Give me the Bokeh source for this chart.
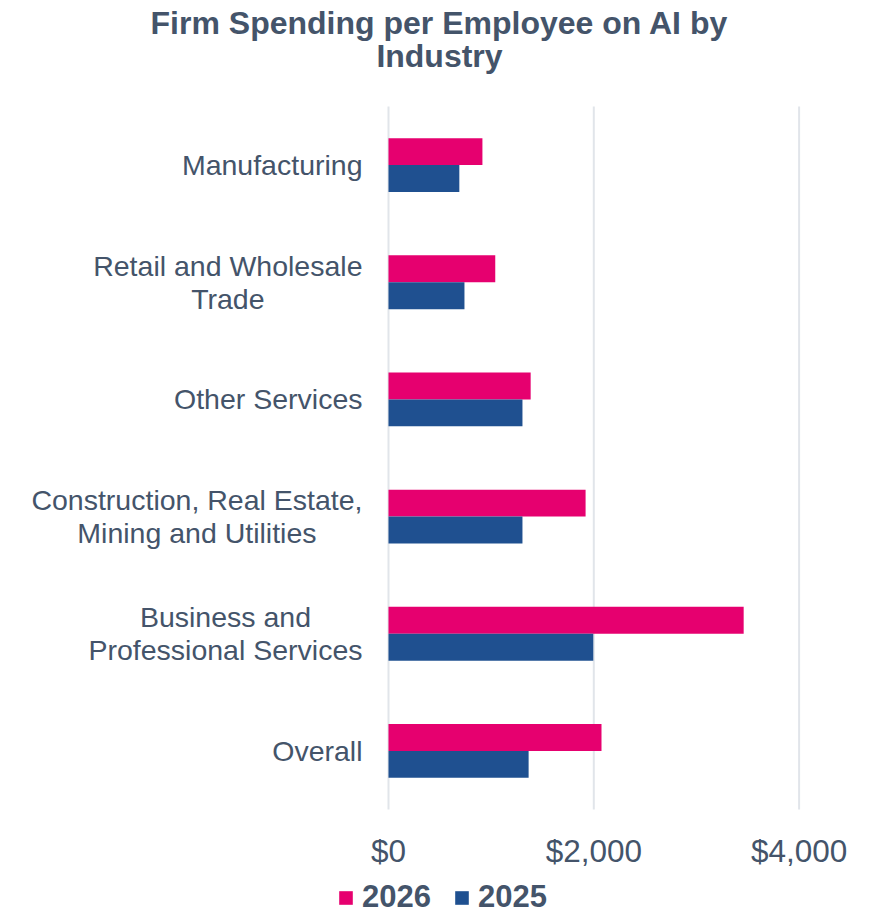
from bokeh.plotting import figure
from bokeh.models import (Range1d, FactorRange, Legend, LegendItem, ColumnDataSource)
from bokeh.core.properties import value
from bokeh.transform import dodge
from bokeh.embed import file_html
from bokeh.resources import INLINE

# ---- data ----
categories = [
    "Manufacturing",
    "Retail and Wholesale\nTrade",
    "Other Services",
    "Construction, Real Estate,\nMining and Utilities",
    "Business and\nProfessional Services",
    "Overall",
]
values_2026 = [915, 1040, 1385, 1920, 3460, 2075]
values_2025 = [690, 740, 1305, 1305, 1995, 1365]
series_names = ["2026", "2025"]
x_ticks = [0, 2000, 4000]
x_tick_labels = ["$0", "$2,000", "$4,000"]
title_lines = ["Firm Spending per Employee on AI by", "Industry"]

# ---- style / layout (pixels) ----
PINK = "#E6006F"
BLUE = "#1F5090"
TEXT = "#44546A"
GRID = "#E1E5EA"
FONT = "Liberation Sans"

W, H = 856, 915
ZERO_PX = 388                 # where $0 sits
PX_PER_USD = 205.3 / 2000     # horizontal scale
CAT_PX = 703 / 6              # height of one category band
x_start = -ZERO_PX / PX_PER_USD
x_end = (W - ZERO_PX) / PX_PER_USD
y_pad = (H / CAT_PX - len(categories)) / 2

src = ColumnDataSource(dict(cat=categories, v26=values_2026, v25=values_2025))
grid_src = ColumnDataSource(dict(x=x_ticks, lbl=x_tick_labels))

p = figure(
    width=W, height=H, title=None,
    y_range=FactorRange(factors=list(reversed(categories)),
                        range_padding=y_pad, range_padding_units="absolute"),
    x_range=Range1d(x_start, x_end),
    output_backend="svg", toolbar_location=None,
    min_border=0, min_border_left=0, min_border_right=0,
    min_border_top=0, min_border_bottom=0,
)
p.outline_line_color = None
p.background_fill_color = "white"
p.border_fill_color = "white"
p.xaxis.visible = False
p.yaxis.visible = False
p.xgrid.grid_line_color = None
p.ygrid.grid_line_color = None

n = len(categories)

# vertical gridlines spanning the category area
p.segment(x0="x", x1="x", y0=0, y1=n, source=grid_src,
          line_color=GRID, line_width=2)

# bars
r26 = p.hbar(y=dodge("cat", 0.115, range=p.y_range), left=0, right="v26",
             height=0.23, source=src, fill_color=PINK, line_color=None)
r25 = p.hbar(y=dodge("cat", -0.115, range=p.y_range), left=0, right="v25",
             height=0.23, source=src, fill_color=BLUE, line_color=None)

# category labels: right-anchored block, lines centred
p.text(x=0, y="cat", text="cat", source=src, x_offset=-26,
       anchor=value("center_right"), text_align="center", text_baseline="middle",
       text_font=value(FONT), text_font_size=value("28.5px"), text_color=TEXT,
       text_line_height=1.03)

# x tick labels
p.text(x="x", y=0, text="lbl", source=grid_src, y_offset=41,
       text_align="center", text_baseline="middle",
       text_font=value(FONT), text_font_size=value("31.5px"), text_color=TEXT)

# title (two centred lines)
for line, off in zip(title_lines, [-84, -51]):
    p.text(x=0, y=n, text=[line], x_offset=51, y_offset=off,
           text_align="center", text_baseline="alphabetic",
           text_font=value(FONT), text_font_size=value("32px"),
           text_font_style="bold", text_color=TEXT)

legend = Legend(
    items=[LegendItem(label=series_names[0], renderers=[r26]),
           LegendItem(label=series_names[1], renderers=[r25])],
    orientation="horizontal", location=(337, 0),
    glyph_width=17, glyph_height=17, label_standoff=8, spacing=22,
    padding=0, margin=0, border_line_color=None, background_fill_alpha=0,
    label_text_font=FONT, label_text_font_size="31px", label_text_font_style="bold",
    label_text_color=TEXT,
)
p.add_layout(legend, "center")

open("out.html", "w").write(file_html(p, INLINE))
